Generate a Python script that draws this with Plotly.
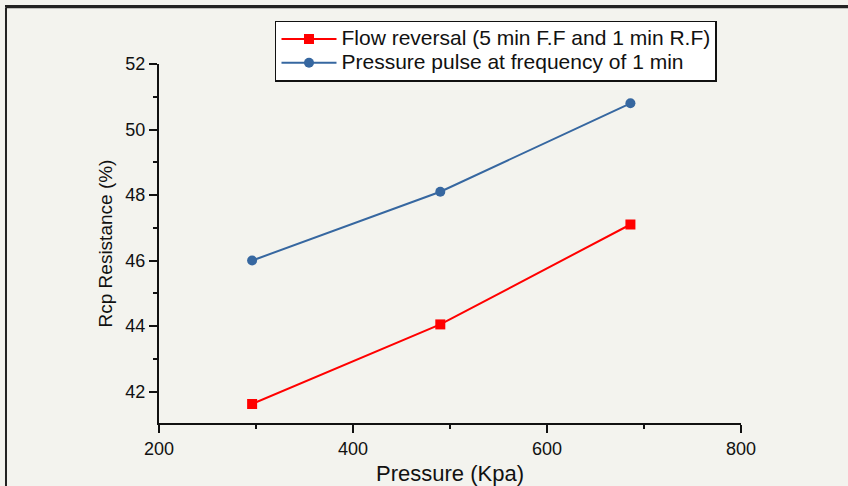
import plotly.graph_objects as go

# Data
pressure = [296, 490, 686]
flow_reversal = [41.62, 44.05, 47.10]
pressure_pulse = [46.0, 48.1, 50.8]
name_flow = "Flow reversal (5 min F.F and 1 min R.F)"
name_pulse = "Pressure pulse at frequency of 1 min"
x_ticks = [200, 400, 600, 800]
y_ticks = [42, 44, 46, 48, 50, 52]

BG = "#f3f3ee"
FONT = "Liberation Sans, Arial, sans-serif"
LEG_TEXT = '<span style="font-size:21px">{}</span>'

fig = go.Figure()
fig.add_trace(go.Scatter(
    x=pressure, y=flow_reversal, name=LEG_TEXT.format(name_flow), mode="lines+markers",
    line=dict(color="#ff0000", width=2),
    marker=dict(symbol="square", size=10, color="#ff0000"),
    cliponaxis=False,
))
fig.add_trace(go.Scatter(
    x=pressure, y=pressure_pulse, name=LEG_TEXT.format(name_pulse), mode="lines+markers",
    line=dict(color="#3667a0", width=2),
    marker=dict(symbol="circle", size=10, color="#3667a0"),
    cliponaxis=False,
))

axis_common = dict(
    showgrid=False, zeroline=False, showline=True, linecolor="#111111",
    linewidth=2, ticks="outside", ticklen=8, tickwidth=1.5, tickcolor="#111111",
    tickfont=dict(family=FONT, size=18, color="#111111"),
    automargin=False,
)

fig.update_xaxes(
    range=[200, 800], tickvals=x_ticks,
    title=dict(text="Pressure (Kpa)", font=dict(family=FONT, size=22, color="#111111"), standoff=9),
    minor=dict(ticks="outside", ticklen=4, tickwidth=1.5, tickcolor="#111111", dtick=100),
    **axis_common,
)
fig.update_yaxes(
    range=[41.04, 52], tickvals=y_ticks,
    title=dict(text="Rcp Resistance (%)", font=dict(family=FONT, size=19, color="#111111"), standoff=8),
    minor=dict(ticks="outside", ticklen=4, tickwidth=1.5, tickcolor="#111111", dtick=1),
    **axis_common,
)

# Outer frame: left edge of the picture border
frame = dict(type="line", xref="paper", yref="paper", line=dict(color="#222222", width=2), layer="above")
fig.add_shape(x0=-0.2629, x1=1.20, y0=1.158, y1=1.158, **frame)
fig.add_shape(x0=-0.2629, x1=-0.2629, y0=1.158, y1=-0.20, **frame)

fig.update_layout(
    width=848, height=486,
    margin=dict(l=159, r=107, t=64, b=63, autoexpand=False),
    paper_bgcolor=BG, plot_bgcolor=BG,
    showlegend=True,
    legend=dict(
        x=0.1993, y=1.121, xanchor="left", yanchor="top",
        bgcolor="#ffffff", bordercolor="#111111", borderwidth=1.5,
        font=dict(family=FONT, size=16, color="#111111"),
        itemwidth=55, tracegroupgap=0,
    ),
)

page_js = (
    "document.documentElement.style.margin='0';"
    "document.body.style.margin='0';"
    "document.body.style.padding='0';"
    "document.body.style.overflow='hidden';"
    "document.body.style.background='" + BG + "';"
    "var topEdge=document.createElement('div');"
    "topEdge.style.cssText='position:fixed;left:5px;top:5px;width:900px;height:2px;"
    "background:#222222;pointer-events:none;z-index:1000;';"
    "document.body.appendChild(topEdge);"
)
fig.write_html("out.html", post_script=page_js, config={"displayModeBar": False})
